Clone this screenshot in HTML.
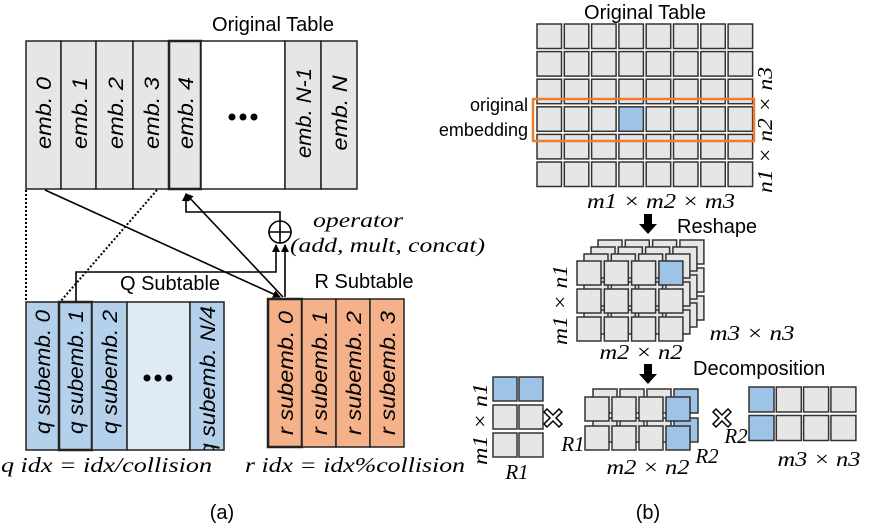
<!DOCTYPE html>
<html><head><meta charset="utf-8"><style>
html,body{margin:0;padding:0;background:#fff}
svg{display:block}
.s{font-family:"Liberation Sans",sans-serif}
.i{font-family:"Liberation Sans",sans-serif;font-style:italic}
.m{font-family:"Liberation Serif",serif;font-style:italic}
</style></head><body>
<svg id="v" width="871" height="530" viewBox="0 0 871 530" xmlns="http://www.w3.org/2000/svg">
<defs>
<marker id="ar" markerWidth="8" markerHeight="8" refX="7" refY="4" orient="auto" markerUnits="userSpaceOnUse"><path d="M0,0 L8,4 L0,8 z" fill="#000"/></marker>
</defs>
<!-- (a) original table -->
<text x="273" y="31" class="s" font-size="20" text-anchor="middle">Original Table</text>
<g stroke="#222" stroke-width="1.5">
<rect x="26" y="41" width="35" height="148" fill="#e6e6e6"/>
<rect x="61" y="41" width="35" height="148" fill="#e6e6e6"/>
<rect x="96" y="41" width="37" height="148" fill="#e6e6e6"/>
<rect x="133" y="41" width="36" height="148" fill="#e6e6e6"/>
<rect x="169" y="41" width="32" height="148" fill="#e6e6e6" stroke-width="2.5"/>
<rect x="201" y="41" width="84" height="148" fill="#fff"/>
<rect x="285" y="41" width="36" height="148" fill="#e6e6e6"/>
<rect x="321" y="41" width="36" height="148" fill="#e6e6e6"/>
</g>
<g class="i" font-size="21" text-anchor="middle">
<text transform="translate(51,113) rotate(-90)" textLength="72" lengthAdjust="spacingAndGlyphs">emb. 0</text>
<text transform="translate(87,113) rotate(-90)" textLength="72" lengthAdjust="spacingAndGlyphs">emb. 1</text>
<text transform="translate(123,113) rotate(-90)" textLength="72" lengthAdjust="spacingAndGlyphs">emb. 2</text>
<text transform="translate(159,113) rotate(-90)" textLength="72" lengthAdjust="spacingAndGlyphs">emb. 3</text>
<text transform="translate(193,113) rotate(-90)" textLength="72" lengthAdjust="spacingAndGlyphs">emb. 4</text>
<text transform="translate(311,113) rotate(-90)" textLength="90" lengthAdjust="spacingAndGlyphs">emb. N-1</text>
<text transform="translate(347,113) rotate(-90)" textLength="75" lengthAdjust="spacingAndGlyphs">emb. N</text>
</g>
<g fill="#000"><circle cx="232" cy="117" r="3.5"/><circle cx="243" cy="117" r="3.5"/><circle cx="254" cy="117" r="3.5"/></g>
<!-- connectors -->
<g stroke="#000" stroke-width="1.6" fill="none">
<line x1="26" y1="190" x2="26" y2="302" stroke-dasharray="2,2" stroke-width="2"/>
<line x1="157" y1="190" x2="60" y2="302" stroke-dasharray="2,2" stroke-width="2"/>
<line x1="45" y1="190" x2="280" y2="297" marker-end="url(#ar)"/>
<line x1="283" y1="297" x2="186" y2="194" marker-end="url(#ar)"/>
<polyline points="280,221 280,212 186,212 186,194" marker-end="url(#ar)"/>
<polyline points="76,302 76,272 276,272 276,245" marker-end="url(#ar)"/>
<line x1="285" y1="297" x2="285" y2="245" marker-end="url(#ar)"/>
<circle cx="280" cy="232" r="11" fill="#fff"/>
<line x1="269" y1="232" x2="291" y2="232"/><line x1="280" y1="221" x2="280" y2="243"/>
</g>
<text x="313" y="227" class="m" font-size="20" textLength="90" lengthAdjust="spacingAndGlyphs">operator</text>
<text x="290" y="252" class="m" font-size="20" textLength="195" lengthAdjust="spacingAndGlyphs">(add, mult, concat)</text>
<!-- Q subtable -->
<text x="170" y="290" class="s" font-size="20" text-anchor="middle">Q Subtable</text>
<g stroke="#222" stroke-width="1.5">
<rect x="26" y="302" width="33" height="148" fill="#b4d0ea"/>
<rect x="59" y="302" width="33" height="148" fill="#b4d0ea" stroke-width="2.5"/>
<rect x="92" y="302" width="35" height="148" fill="#b4d0ea"/>
<rect x="127" y="302" width="63" height="148" fill="#deeaf6"/>
<rect x="190" y="302" width="34" height="148" fill="#b4d0ea"/>
</g>
<g class="i" font-size="21" text-anchor="middle">
<text transform="translate(50,372) rotate(-90)" textLength="124" lengthAdjust="spacingAndGlyphs">q subemb. 0</text>
<text transform="translate(83,372) rotate(-90)" textLength="124" lengthAdjust="spacingAndGlyphs">q subemb. 1</text>
<text transform="translate(117,372) rotate(-90)" textLength="124" lengthAdjust="spacingAndGlyphs">q subemb. 2</text>
</g>
<svg x="190" y="302" width="34" height="148"><text transform="translate(25,4) rotate(-90)" class="i" font-size="21" text-anchor="end" textLength="150" lengthAdjust="spacingAndGlyphs">q subemb. N/4</text></svg>
<g fill="#000"><circle cx="147" cy="378" r="3.5"/><circle cx="158" cy="378" r="3.5"/><circle cx="169" cy="378" r="3.5"/></g>
<!-- R subtable -->
<text x="364" y="288" class="s" font-size="20" text-anchor="middle">R Subtable</text>
<g stroke="#222" stroke-width="1.5" fill="#f4b18a">
<rect x="268" y="299" width="34" height="148" stroke-width="2.5"/>
<rect x="302" y="299" width="34" height="148"/>
<rect x="336" y="299" width="34" height="148"/>
<rect x="370" y="299" width="34" height="148"/>
</g>
<g class="i" font-size="21" text-anchor="middle">
<text transform="translate(293,373) rotate(-90)" textLength="124" lengthAdjust="spacingAndGlyphs">r subemb. 0</text>
<text transform="translate(327,373) rotate(-90)" textLength="124" lengthAdjust="spacingAndGlyphs">r subemb. 1</text>
<text transform="translate(361,373) rotate(-90)" textLength="124" lengthAdjust="spacingAndGlyphs">r subemb. 2</text>
<text transform="translate(395,373) rotate(-90)" textLength="124" lengthAdjust="spacingAndGlyphs">r subemb. 3</text>
</g>
<text x="1" y="472" class="m" font-size="21" textLength="211" lengthAdjust="spacingAndGlyphs">q idx = idx/collision</text>
<text x="245" y="472" class="m" font-size="21" textLength="220" lengthAdjust="spacingAndGlyphs">r idx = idx%collision</text>
<text x="222" y="519" class="s" font-size="20" text-anchor="middle">(a)</text>
<text x="648" y="519" class="s" font-size="20" text-anchor="middle">(b)</text>
<!-- (b) -->
<text x="645" y="19" class="s" font-size="20" text-anchor="middle">Original Table</text>
<g id="g1" stroke="#333" stroke-width="1.5"></g>
<rect x="533" y="99" width="221" height="42" fill="none" stroke="#ed7d31" stroke-width="2.5"/>
<text x="528" y="111" class="s" font-size="18" text-anchor="end">original</text>
<text x="528" y="136" class="s" font-size="18" text-anchor="end">embedding</text>
<text transform="translate(772,130) rotate(-90)" class="m" font-size="21" text-anchor="middle" textLength="126" lengthAdjust="spacingAndGlyphs">n1 × n2 × n3</text>
<text x="661" y="208" class="m" font-size="21" text-anchor="middle" textLength="148" lengthAdjust="spacingAndGlyphs">m1 × m2 × m3</text>
<path d="M644,214 h8 v10 h5 l-9,10 l-9,-10 h5 z" fill="#000"/>
<text x="677" y="233" class="s" font-size="20">Reshape</text>
<g id="g2" stroke="#333" stroke-width="1.5"></g>
<text transform="translate(567,305) rotate(-90)" class="m" font-size="21" text-anchor="middle" textLength="80" lengthAdjust="spacingAndGlyphs">m1 × n1</text>
<text x="641" y="359" class="m" font-size="21" text-anchor="middle" textLength="83" lengthAdjust="spacingAndGlyphs">m2 × n2</text>
<text x="752" y="340" class="m" font-size="21" text-anchor="middle" textLength="85" lengthAdjust="spacingAndGlyphs">m3 × n3</text>
<path d="M644,364 h8 v10 h5 l-9,10 l-9,-10 h5 z" fill="#000"/>
<text x="693" y="375" class="s" font-size="20">Decomposition</text>
<g id="g3" stroke="#333" stroke-width="1.5"></g>
<text transform="translate(487,424) rotate(-90)" class="m" font-size="21" text-anchor="middle" textLength="82" lengthAdjust="spacingAndGlyphs">m1 × n1</text>
<text x="517" y="479" class="m" font-size="21" text-anchor="middle">R1</text>
<text x="573" y="451" class="m" font-size="21" text-anchor="middle">R1</text>
<text x="648" y="474" class="m" font-size="21" text-anchor="middle" textLength="83" lengthAdjust="spacingAndGlyphs">m2 × n2</text>
<text x="707" y="463" class="m" font-size="21" text-anchor="middle">R2</text>
<text x="736" y="443" class="m" font-size="21" text-anchor="middle">R2</text>
<text x="819" y="466" class="m" font-size="21" text-anchor="middle" textLength="83" lengthAdjust="spacingAndGlyphs">m3 × n3</text>
<g fill="#fff" stroke="#000" stroke-width="1.5">
<path d="M553,418 m-9,-6 l3,-3 l6,6 l6,-6 l3,3 l-6,6 l6,6 l-3,3 l-6,-6 l-6,6 l-3,-3 l6,-6 z"/>
<path d="M722,418 m-9,-6 l3,-3 l6,6 l6,-6 l3,3 l-6,6 l6,6 l-3,3 l-6,-6 l-6,6 l-3,-3 l6,-6 z"/>
</g>
</svg>
<script>
var NS="http://www.w3.org/2000/svg";
function cell(g,x,y,s,blue){var r=document.createElementNS(NS,"rect");r.setAttribute("x",x);r.setAttribute("y",y);r.setAttribute("width",s);r.setAttribute("height",s);r.setAttribute("fill",blue?"#9dc3e6":"#e6e6e6");g.appendChild(r);}
var g1=document.getElementById("g1");
for(var r=0;r<6;r++)for(var c=0;c<8;c++)cell(g1,537+c*27.3,24+r*27.6,24.5,r==3&&c==3);
var g2=document.getElementById("g2");
for(var l=3;l>=0;l--)for(var r=0;r<3;r++)for(var c=0;c<4;c++)cell(g2,577+l*7+c*27.3,261-l*7+r*28,24,l==0&&r==0&&c==3);
var g3=document.getElementById("g3");
for(var r=0;r<3;r++)for(var c=0;c<2;c++)cell(g3,493+c*26,377+r*28,24,r==0);
for(var l=1;l>=0;l--)for(var r=0;r<2;r++)for(var c=0;c<4;c++)cell(g3,585+l*8+c*27,397-l*8+r*29,24,c==3);
for(var r=0;r<2;r++)for(var c=0;c<4;c++)cell(g3,749+c*27.3,387+r*28.5,25,c==0);
</script>
</body></html>
